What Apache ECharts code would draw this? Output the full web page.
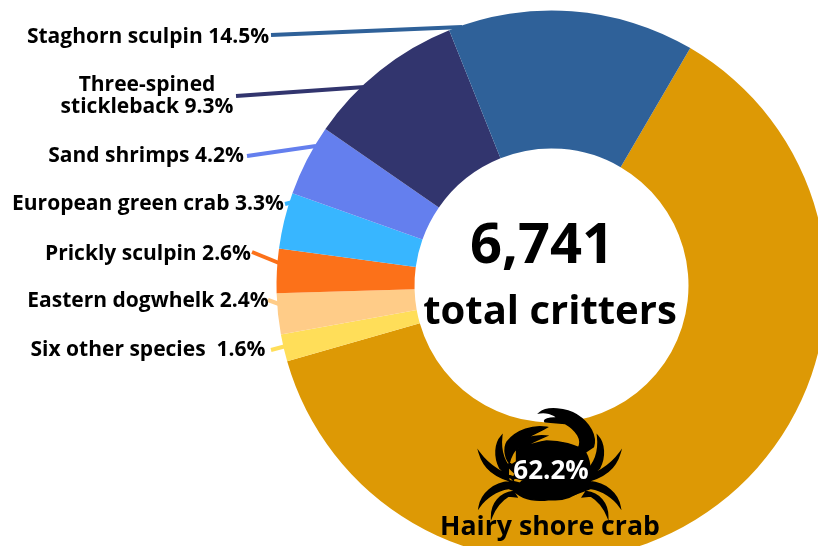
<!DOCTYPE html>
<html><head><meta charset="utf-8">
<style>html,body{margin:0;padding:0;background:#fff}#c{width:818px;height:546px}</style>
<script src="https://cdn.jsdelivr.net/npm/echarts@6/dist/echarts.min.js"></script></head>
<body><div id="c"></div>
<script>
const categories = ['Hairy shore crab','Six other species ','Eastern dogwhelk','Prickly sculpin','European green crab','Sand shrimps','Three-spined\nstickleback','Staghorn sculpin'];
const percents = [62.2,1.6,2.4,2.6,3.3,4.2,9.3,14.5];
const colors = ['#DD9905','#FFDE59','#FFCC88','#FC7119','#38B6FF','#647FEE','#32356E','#2F6199'];
const totalText = '6,741';
const totalCaption = 'total critters';
// label centres and leader-line ends in screen pixels
const labelSpots = [null,[148,350],[148,301],[148,254],[148,204],[146,156],[147,96],[148,37]];
const leaders = [null,[[271,350],[286,346]],[[268,300],[279,304]],[[252,252],[279,263]],[[285,204],[293,202]],[[247,156],[316,146]],[[236,96],[365,87]],[[271,35],[462,27]]];

const FONT = '"Open Sans", "Noto Sans", sans-serif';
const crabLeft = 'M245 138C225 160 222 200 240 235L280 270L285 250C250 220 240 180 245 138Z'
 + 'M178 188C190 230 220 265 300 280L310 270C250 255 205 225 178 188Z'
 + 'M178 350C185 310 220 280 270 275L330 300L320 315L265 295C230 300 195 325 178 350Z'
 + 'M215 380C215 340 240 310 280 305L290 320L265 318C245 330 225 355 215 380Z';
const crabBody = 'M285 180C330 165 340 160 380 153C420 153 470 165 495 185C515 220 515 265 490 295C455 325 420 332 390 328C340 336 300 325 275 295C258 260 262 210 285 180Z'
 + 'M360 68C380 50 440 55 470 75C510 100 530 140 520 170L490 190L475 175C490 150 470 120 435 100L375 95C370 90 385 82 415 85C400 70 375 65 360 68Z'
 + 'M380 112C340 105 290 120 262 155C250 175 255 210 275 225L290 215L290 180C320 165 350 150 378 138C350 135 335 140 320 145C340 130 360 125 380 112Z';
echarts.graphic.registerShape('crabMain', echarts.graphic.extendPath(crabBody+crabLeft, {}));
echarts.graphic.registerShape('crabLegs', echarts.graphic.extendPath(crabLeft, {}));

const chart = echarts.init(document.getElementById('c'), null, {renderer:'canvas'});
chart.setOption({
  animation:false,
  backgroundColor:'#fff',
  series:[{
    type:'pie',
    center:[551.5,285.5],
    radius:[137,275],
    startAngle:59.7,
    clockwise:true,
    avoidLabelOverlap:false,
    silent:true,
    data:categories.map((name,i)=>({
      name, value:percents[i],
      itemStyle:{color:colors[i]},
      label:{show:i>0},
      labelLine:{show:i>0,lineStyle:{color:colors[i],width:4}}
    })),
    label:{
      position:'outside',
      formatter:p=>p.name+' '+p.value+'%',
      color:'#000',fontFamily:FONT,fontWeight:700,fontSize:21,lineHeight:22,align:'center'
    },
    labelLine:{show:true,length:5,length2:5,smooth:false},
    labelLayout:p=>{
      const s=labelSpots[p.dataIndex];
      if(!s) return {};
      return {x:s[0],y:s[1],align:'center',verticalAlign:'middle',labelLinePoints:leaders[p.dataIndex]};
    }
  }],
  graphic:[
    {type:'crabMain',z:10,silent:true,x:420,y:390,scaleX:1/3,scaleY:1/3,style:{fill:'#000',stroke:'#000',lineWidth:5}},
    {type:'crabLegs',z:10,silent:true,x:420+778/3,y:390,scaleX:-1/3,scaleY:1/3,style:{fill:'#000',stroke:'#000',lineWidth:5}},
    {type:'text',z:11,x:551,y:472,style:{text:percents[0]+'%',fill:'#fff',font:'700 26px '+FONT,textAlign:'center',textVerticalAlign:'middle'}},
    {type:'text',z:11,x:550,y:527,style:{text:categories[0],fill:'#000',font:'700 26.7px '+FONT,textAlign:'center',textVerticalAlign:'middle'}},
    {type:'text',z:11,x:542,y:247,style:{text:totalText,fill:'#000',font:'700 56px '+FONT,textAlign:'center',textVerticalAlign:'middle'}},
    {type:'text',z:11,x:550,y:313,style:{text:totalCaption,fill:'#000',font:'700 40px '+FONT,textAlign:'center',textVerticalAlign:'middle'}}
  ]
});
</script></body></html>
